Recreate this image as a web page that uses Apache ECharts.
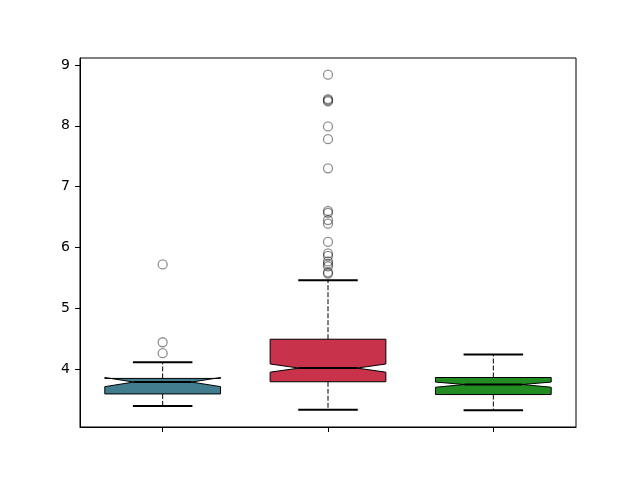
<!DOCTYPE html>
<html>
<head>
<meta charset="utf-8">
<script src="https://cdn.jsdelivr.net/npm/echarts@6/dist/echarts.min.js"></script>
<style>html,body{margin:0;padding:0;background:#fff}#c{width:640px;height:480px}</style>
</head>
<body>
<div id="c"></div>
<script>
const categories = ['1', '2', '3'];
const whiskerLo = [3.39, 3.33, 3.32];
const q1 = [3.59, 3.79, 3.58];
const notchLo = [3.71, 3.948, 3.70];
const median = [3.785, 4.015, 3.745];
const notchHi = [3.86, 4.082, 3.785];
const q3 = [3.845, 4.49, 3.86];
const whiskerHi = [4.11, 5.46, 4.24];
const outliers1 = [5.72, 4.44, 4.26];
const outliers2 = [8.84, 8.44, 8.42, 8.40, 7.99, 7.78, 7.30, 6.60, 6.57, 6.45, 6.39, 6.09, 5.90, 5.86, 5.77, 5.73, 5.69, 5.59, 5.57];
const outliers3 = [];
const boxColors = ['#417d8f', '#c8324a', '#228b22'];
const yTicks = [4, 5, 6, 7, 8, 9];

const outlierData = [];
[outliers1, outliers2, outliers3].forEach((arr, i) => arr.forEach(v => outlierData.push([i, v])));

const boxData = categories.map((c, i) => [i, whiskerLo[i], q1[i], notchLo[i], median[i], notchHi[i], q3[i], whiskerHi[i]]);

function renderBox(params, api) {
  const i = api.value(0);
  const band = api.size([1, 0])[0];
  const w = band * 0.7;
  const cx = api.coord([i, 0])[0];
  const y = v => api.coord([i, v])[1];
  const bl = cx - w / 2, br = cx + w / 2;
  const wl = cx - w / 4, wr = cx + w / 4;
  const capW = band * 0.36;
  const wlo = api.value(1), a = api.value(2), nlo = api.value(3), med = api.value(4), nhi = api.value(5), b = api.value(6), whi = api.value(7);
  const pts = [
    [bl, y(a)], [br, y(a)], [br, y(nlo)], [wr, y(med)], [br, y(nhi)], [br, y(b)],
    [bl, y(b)], [bl, y(nhi)], [wl, y(med)], [bl, y(nlo)]
  ];
  return {
    type: 'group',
    children: [
      { type: 'line', shape: { x1: cx, y1: y(b), x2: cx, y2: y(whi) }, style: { stroke: '#000', lineWidth: 1, lineDash: [5, 2] } },
      { type: 'line', shape: { x1: cx, y1: y(a), x2: cx, y2: y(wlo) }, style: { stroke: '#000', lineWidth: 1, lineDash: [5, 2] } },
      { type: 'polygon', shape: { points: pts }, style: { fill: boxColors[i], stroke: '#000', lineWidth: 1 } },
      { type: 'line', shape: { x1: cx - capW / 2, y1: y(whi), x2: cx + capW / 2, y2: y(whi) }, style: { stroke: '#000', lineWidth: 2 } },
      { type: 'line', shape: { x1: cx - capW / 2, y1: y(wlo), x2: cx + capW / 2, y2: y(wlo) }, style: { stroke: '#000', lineWidth: 2 } },
      { type: 'line', shape: { x1: wl, y1: y(med), x2: wr, y2: y(med) }, style: { stroke: '#000', lineWidth: 2 } }
    ]
  };
}

const chart = echarts.init(document.getElementById('c'), null, { renderer: 'canvas' });
chart.setOption({
  animation: false,
  backgroundColor: '#fff',
  grid: { left: 80, right: 64, top: 58, bottom: 53, show: true, borderColor: '#000', borderWidth: 1, backgroundColor: 'transparent' },
  xAxis: {
    type: 'category', data: categories, boundaryGap: true,
    axisLine: { lineStyle: { color: '#000', width: 1 } },
    axisTick: { show: true, alignWithLabel: true, interval: 0, length: 5, lineStyle: { color: '#000' } },
    axisLabel: { show: false },
    splitLine: { show: false }
  },
  yAxis: {
    type: 'value', min: 3.046, max: 9.115,
    axisLine: { show: true, lineStyle: { color: '#000', width: 1 } },
    axisTick: { show: true, length: 5, lineStyle: { color: '#000' }, customValues: yTicks },
    axisLabel: { show: true, color: '#000', fontSize: 14, fontFamily: 'DejaVu Sans', margin: 10, customValues: yTicks, formatter: v => String(v) },
    splitLine: { show: false }
  },
  series: [
    { type: 'custom', renderItem: renderBox, data: boxData, encode: { x: 0, y: [1, 7] }, z: 2 },
    {
      type: 'scatter', data: outlierData, symbol: 'circle', symbolSize: 9, z: 3,
      itemStyle: { color: 'rgba(0,0,0,0)', borderColor: 'rgba(0,0,0,0.55)', borderWidth: 1.3 }
    }
  ]
});
</script>
</body>
</html>
